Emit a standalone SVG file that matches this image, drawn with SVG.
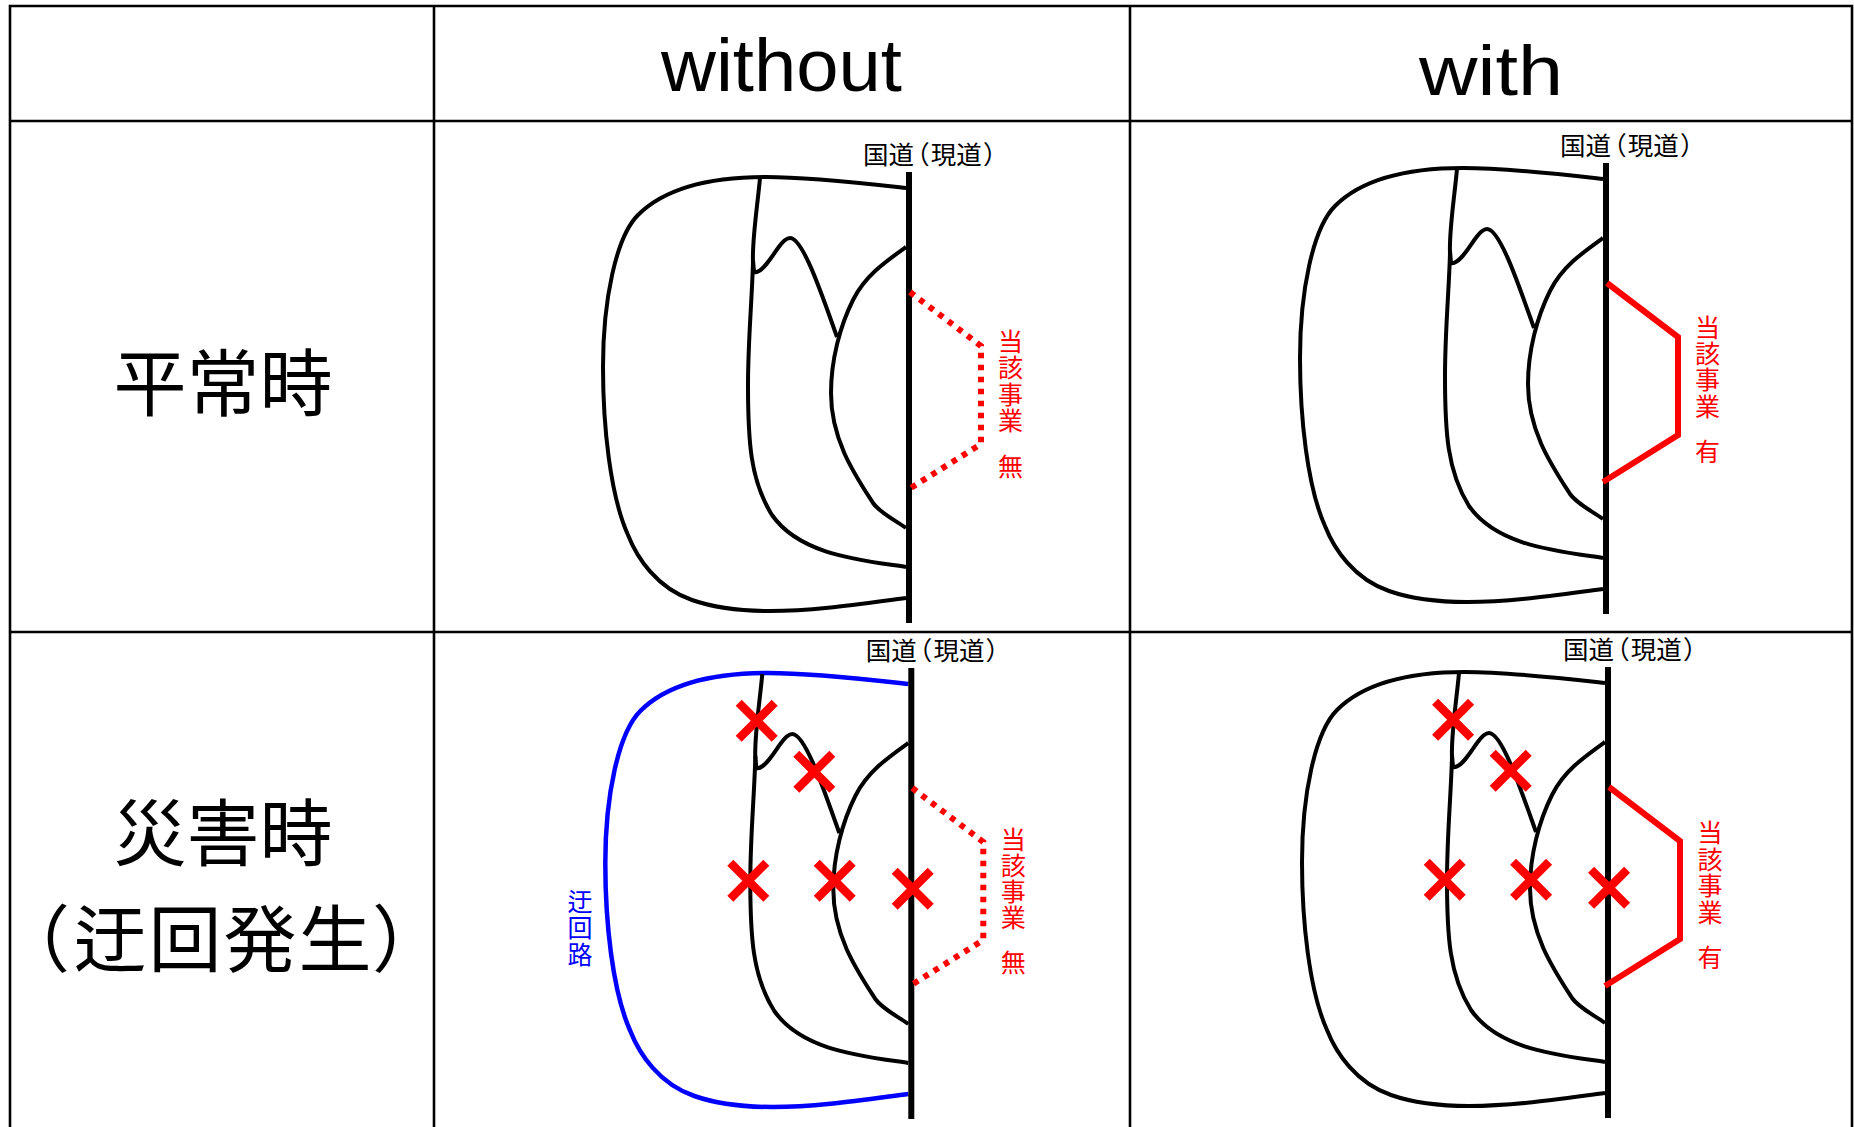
<svg xmlns="http://www.w3.org/2000/svg" width="1854" height="1127" viewBox="0 0 1854 1127">
<style>
.grid{stroke:#000;stroke-width:2.6;fill:none}
.rd{fill:none;stroke-width:4;stroke:#000}
.blue{stroke:#00f;stroke-width:4.5}
.main{stroke:#000;stroke-width:6;fill:none}
.plan{fill:none;stroke:#f00;stroke-width:6}
.dash{stroke-dasharray:5.5 6.5}
.x{stroke:#f00;stroke-width:8.5;fill:none}
.cjk{font-family:"Noto Sans CJK JP",sans-serif}
.big{font-size:73px;fill:#000}
.en{font-family:"Liberation Sans",Arial,sans-serif;fill:#000}
.sm{font-size:25.5px;fill:#000}
.par{font-feature-settings:"palt"}
.side{font-size:25px;fill:#f00;writing-mode:vertical-rl;text-anchor:start}
.det{font-size:25px;fill:#00f;writing-mode:vertical-rl;letter-spacing:1.6px}
</style>
<defs>
<path id="outer" d="M906 188C870 184 810 177 766 177C720 177 668 185 638 215C616 237 603 300 603 367C603 425 610 495 628 535C637 558 657 588 692 600C712 607 740 611 770 611C815 611 860 604 906 598"/>
<path id="inner1" d="M760 178C757 210 752 240 753 262C752 300 748 340 748 385C748 440 750 480 772 515C800 555 860 560 906 567"/>
<path id="branch" d="M753 260L754 272C762 274 772 256 778 248C783 241 787 238 790 238C803 238 822 295 837 337"/>
<path id="inner2" d="M906 247C885 262 865 276 853 300C840 326 831 360 831 393C831 440 855 475 873 503C880 513 895 520 906 528"/>
<path id="proj" d="M910 292L981 346V444L906 491"/>
<g id="cross"><path d="M-18 -18L18 18M18 -18L-18 18"/></g>
</defs>
<rect width="1854" height="1127" fill="#fff"/>
<g id="table" class="grid">
<path d="M10 1127V6H1852V1127"/>
<path d="M434 6V1127M1130 6V1127"/>
<path d="M10 121H1852M10 632H1852"/>
</g>
<g id="header-without"><text class="en" x="661" y="91" font-size="75" textLength="241" lengthAdjust="spacingAndGlyphs">without</text></g>
<g id="header-with"><text class="en" x="1419" y="95" font-size="70" textLength="144" lengthAdjust="spacingAndGlyphs">with</text></g>
<g id="row-normal"><text class="cjk big" x="223" y="410" text-anchor="middle">平常時</text></g>
<g id="row-disaster"><text class="cjk big" x="223" y="860" text-anchor="middle">災害時</text><text class="cjk big" y="966"><tspan x="-3">（</tspan><tspan x="73.5" letter-spacing="2">迂回発生</tspan><tspan x="372">）</tspan></text></g>

<g id="connectors">
<g id="roads-without-normal" class="rd">
<use href="#outer"/><use href="#inner1"/><use href="#branch"/><use href="#inner2"/>
<path class="main" d="M909 172V623"/>
<use href="#proj" class="plan dash"/>
</g>
<g id="roads-with-normal" class="rd" transform="translate(697 -9)">
<use href="#outer"/><use href="#inner1"/><use href="#branch"/><use href="#inner2"/>
<path class="main" d="M909 172V623"/>
<use href="#proj" class="plan"/>
</g>
<g id="roads-without-disaster" class="rd" transform="translate(2.3 496)">
<use href="#outer" class="blue"/><use href="#inner1"/><use href="#branch"/><use href="#inner2"/>
<path class="main" d="M909 172V623"/>
<use href="#proj" class="plan dash"/>
</g>
<g id="roads-with-disaster" class="rd" transform="translate(699 495)">
<use href="#outer"/><use href="#inner1"/><use href="#branch"/><use href="#inner2"/>
<path class="main" d="M909 172V623"/>
<use href="#proj" class="plan"/>
</g>
</g>

<g id="crosses-without" class="x">
<use href="#cross" x="756.7" y="720.7"/><use href="#cross" x="814.3" y="771.7"/><use href="#cross" x="748.3" y="880.7"/><use href="#cross" x="834.7" y="880.7"/><use href="#cross" x="912.7" y="888.7"/>
</g>
<g id="crosses-with" class="x" transform="translate(696.4 -1)">
<use href="#cross" x="756.7" y="720.7"/><use href="#cross" x="814.3" y="771.7"/><use href="#cross" x="748.3" y="880.7"/><use href="#cross" x="834.7" y="880.7"/><use href="#cross" x="912.7" y="888.7"/>
</g>

<g id="label-road-1"><text class="cjk sm" x="863" y="164">国道<tspan class="par" dx="2">（</tspan><tspan dx="2">現</tspan>道<tspan class="par" dx="2">）</tspan></text></g>
<g id="label-road-2"><text class="cjk sm" x="1560" y="155.3">国道<tspan class="par" dx="2">（</tspan><tspan dx="2">現</tspan>道<tspan class="par" dx="2">）</tspan></text></g>
<g id="label-road-3"><text class="cjk sm" x="865.7" y="660">国道<tspan class="par" dx="2">（</tspan><tspan dx="2">現</tspan>道<tspan class="par" dx="2">）</tspan></text></g>
<g id="label-road-4"><text class="cjk sm" x="1563" y="659">国道<tspan class="par" dx="2">（</tspan><tspan dx="2">現</tspan>道<tspan class="par" dx="2">）</tspan></text></g>

<g id="label-project-1"><text class="cjk side" x="1010.5" y="328.5" letter-spacing="1.6">当該事業</text><text class="cjk side" x="1010.5" y="453.5">無</text></g>
<g id="label-project-2"><text class="cjk side" x="1707.5" y="315" letter-spacing="1.2">当該事業</text><text class="cjk side" x="1707.5" y="438.5">有</text></g>
<g id="label-project-3"><text class="cjk side" x="1013.3" y="826.5" letter-spacing="1.2">当該事業</text><text class="cjk side" x="1013.3" y="950">無</text></g>
<g id="label-project-4"><text class="cjk side" x="1710" y="820" letter-spacing="1.6">当該事業</text><text class="cjk side" x="1710" y="945">有</text></g>
<g id="label-detour"><text class="cjk det" x="580" y="888.5">迂回路</text></g>
</svg>
